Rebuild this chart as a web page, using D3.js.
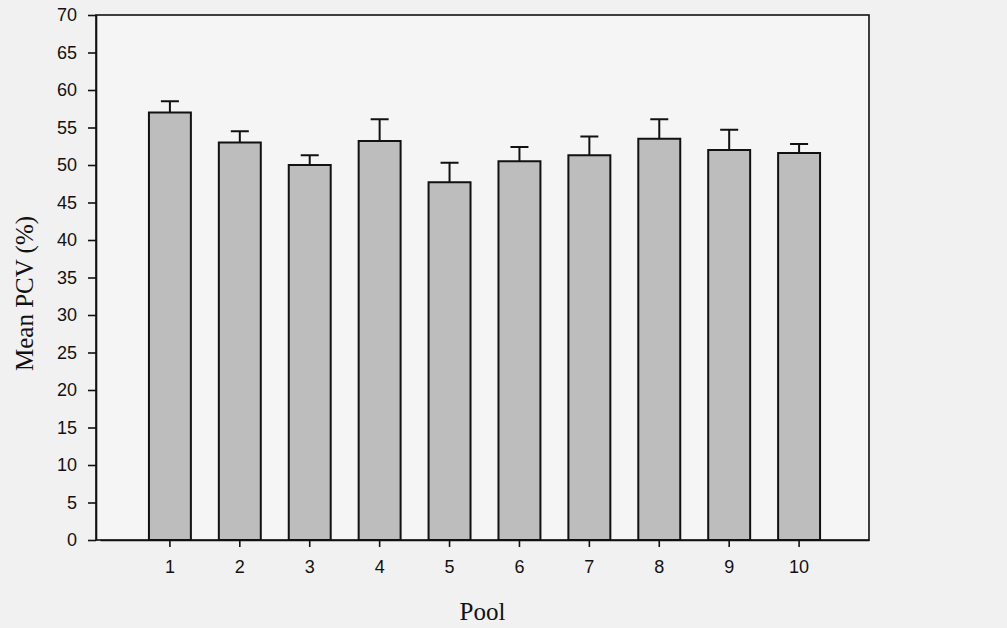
<!DOCTYPE html>
<html>
<head>
<meta charset="utf-8">
<script src="https://cdn.jsdelivr.net/npm/d3@7"></script>
<style>
  body { margin: 0; background: #f1f1f1; }
  svg { display: block; }
  .axis text { font-family: Arial, "Liberation Sans", sans-serif; font-size: 18px; fill: #111; }
  .axis path, .axis line { stroke: #111; stroke-width: 1.6px; }
  .title { font-family: "Times New Roman", "Liberation Serif", serif; font-size: 25px; fill: #111; }
</style>
</head>
<body>
<svg id="chart" width="1007" height="628"></svg>
<script>
var pools = ["1", "2", "3", "4", "5", "6", "7", "8", "9", "10"];
var meanPCV = [57.0, 53.0, 50.0, 53.2, 47.7, 50.5, 51.3, 53.5, 52.0, 51.6];
var errPCV = [1.5, 1.5, 1.3, 2.9, 2.6, 1.9, 2.5, 2.6, 2.7, 1.2];
var yTicks = [0, 5, 10, 15, 20, 25, 30, 35, 40, 45, 50, 55, 60, 65, 70];

var svg = d3.select("#chart"),
    margin = {top: 15, right: 138, bottom: 88, left: 96},
    width = +svg.attr("width") - margin.left - margin.right,
    height = +svg.attr("height") - margin.top - margin.bottom,
    g = svg.append("g").attr("transform", "translate(" + margin.left + "," + margin.top + ")");

var x = d3.scaleBand()
    .domain(pools)
    .range([4, width])
    .paddingInner(0.4)
    .paddingOuter(0.7);

var y = d3.scaleLinear()
    .domain([0, 70])
    .range([height, 0]);

// plot frame
g.append("rect")
    .attr("x", 0)
    .attr("y", 0)
    .attr("width", width)
    .attr("height", height)
    .attr("fill", "#f5f5f5")
    .attr("stroke", "#111")
    .attr("stroke-width", 1.6);

var data = pools.map(function(p, i) { return {pool: p, mean: meanPCV[i], err: errPCV[i]}; });

var bar = g.selectAll(".bar")
  .data(data)
  .enter().append("g")
    .attr("class", "bar");

bar.append("line")
    .attr("x1", function(d) { return x(d.pool) + x.bandwidth() / 2; })
    .attr("x2", function(d) { return x(d.pool) + x.bandwidth() / 2; })
    .attr("y1", function(d) { return y(d.mean); })
    .attr("y2", function(d) { return y(d.mean + d.err); })
    .attr("stroke", "#111")
    .attr("stroke-width", 2);

bar.append("line")
    .attr("x1", function(d) { return x(d.pool) + x.bandwidth() / 2 - 9; })
    .attr("x2", function(d) { return x(d.pool) + x.bandwidth() / 2 + 9; })
    .attr("y1", function(d) { return y(d.mean + d.err); })
    .attr("y2", function(d) { return y(d.mean + d.err); })
    .attr("stroke", "#111")
    .attr("stroke-width", 2);

bar.append("rect")
    .attr("x", function(d) { return x(d.pool); })
    .attr("y", function(d) { return y(d.mean); })
    .attr("width", x.bandwidth())
    .attr("height", function(d) { return y(0) - y(d.mean); })
    .attr("fill", "#bdbdbd")
    .attr("stroke", "#111")
    .attr("stroke-width", 2);

g.append("g")
    .attr("class", "axis axis--y")
    .call(d3.axisLeft(y).tickValues(yTicks).tickSize(8).tickPadding(11).tickSizeOuter(0));

g.append("g")
    .attr("class", "axis axis--x")
    .attr("transform", "translate(0," + height + ")")
    .call(d3.axisBottom(x).tickSize(7).tickPadding(13).tickSizeOuter(0));

g.append("text")
    .attr("class", "title")
    .attr("x", width / 2)
    .attr("y", height + 80)
    .attr("text-anchor", "middle")
    .text("Pool");

g.append("text")
    .attr("class", "title")
    .attr("transform", "translate(" + (-63) + "," + (height / 2 + 16) + ") rotate(-90)")
    .attr("text-anchor", "middle")
    .text("Mean PCV (%)");
</script>
</body>
</html>
